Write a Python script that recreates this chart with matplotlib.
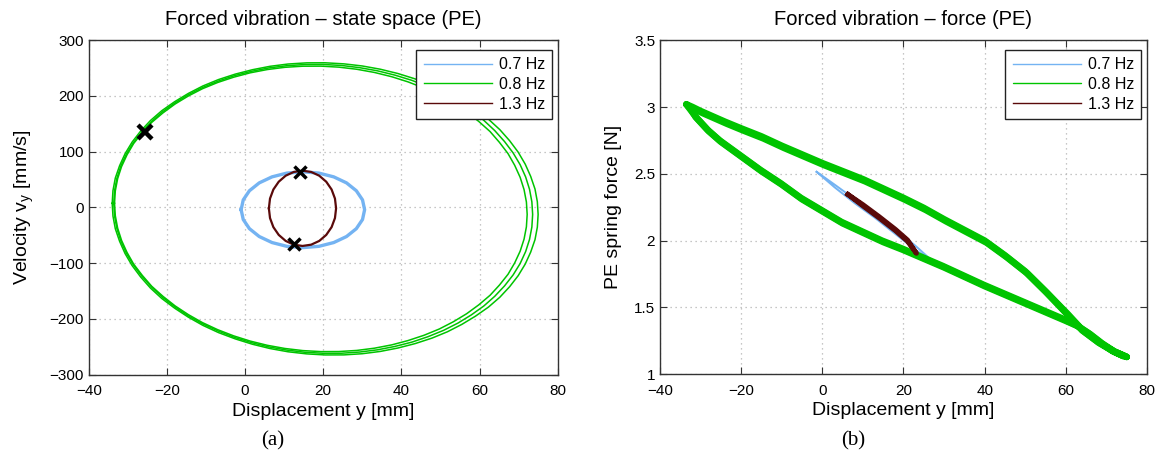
"""Forced vibration of the PE spring: state space and force loops."""

import matplotlib

matplotlib.use("Agg")
import matplotlib.pyplot as plt

plt.rcParams["font.family"] = ["Liberation Sans", "DejaVu Sans"]
plt.rcParams["mathtext.fontset"] = "custom"
plt.rcParams["mathtext.rm"] = "Liberation Sans"

labels = ["0.7 Hz", "0.8 Hz", "1.3 Hz"]
c_blue, c_green, c_red = "#74b3f2", "#00c400", "#5a0a0a"

# ---- (a) state space: displacement [mm] / velocity [mm/s] ----
blue_x = [-1.0, -0.46, 1.12, 3.63, 6.9, 10.71, 14.8, 18.89, 22.7, 25.97,
          28.48, 30.06, 30.6, 30.06, 28.48, 25.97, 22.7, 18.89, 14.8, 10.71,
          6.9, 3.63, 1.12, -0.46, -1.0]
blue_v = [-4, 13.6, 30, 44.1, 54.9, 61.7, 64, 61.7, 54.9, 44.1, 30, 13.6, -4,
          -21.6, -38, -52.1, -62.9, -69.7, -72, -69.7, -62.9, -52.1, -38,
          -21.6, -4]

red_x = [6.1, 6.39, 7.25, 8.62, 10.4, 12.47, 14.7, 16.93, 18.99, 20.78, 22.15,
         23.01, 23.3, 23.01, 22.15, 20.78, 18.99, 16.93, 14.7, 12.47, 10.4,
         8.62, 7.25, 6.39, 6.1]
red_v = [-1.5, 16.0, 32.25, 46.2, 57.0, 63.7, 66, 63.7, 57.0, 46.2, 32.25,
         16.0, -1.5, -19.0, -35.25, -49.2, -60.0, -66.7, -69, -66.7, -60.0,
         -49.2, -35.25, -19.0, -1.5]

# green: three recorded cycles of the 0.8 Hz response (clockwise)
green_x = [
    [-34.0, -33.8, -33.2, -32.1, -30.7, -28.9, -26.7, -24.2, -21.3, -18.0,
     -14.5, -10.8, -6.8, -2.5, 1.9, 6.4, 11.0, 15.8, 20.5,
     25.3, 30.0, 34.6, 39.1, 43.5, 47.8, 51.8, 55.5, 59.0, 62.3, 65.2, 67.7,
     69.9, 71.7, 73.1, 74.2, 74.8, 75.0,
     74.8, 74.2, 73.1, 71.7, 69.9, 67.7, 65.2, 62.3, 59.0, 55.5, 51.8, 47.8,
     43.5, 39.1, 34.6, 30.0, 25.3, 20.5,
     15.8, 11.0, 6.4, 1.9, -2.5, -6.8, -10.8, -14.5, -18.0, -21.3, -24.2,
     -26.7, -28.9, -30.7, -32.1, -33.2, -33.8, -34.0],
    [-33.6, -33.4, -32.8, -31.8, -30.4, -28.6, -26.4, -23.9, -21.1, -17.9,
     -14.5, -10.8, -6.8, -2.7, 1.7, 6.1, 10.7, 15.3, 20.0,
     24.7, 29.3, 33.9, 38.3, 42.7, 46.8, 50.8, 54.5, 57.9, 61.1, 63.9, 66.4,
     68.6, 70.4, 71.8, 72.8, 73.4, 73.6,
     73.4, 72.8, 71.8, 70.4, 68.6, 66.4, 63.9, 61.1, 57.9, 54.5, 50.8, 46.8,
     42.7, 38.3, 33.9, 29.3, 24.7, 20.0,
     15.3, 10.7, 6.1, 1.7, -2.7, -6.8, -10.8, -14.5, -17.9, -21.1, -23.9,
     -26.4, -28.6, -30.4, -31.8, -32.8, -33.4, -33.6],
    [-33.4, -33.2, -32.6, -31.6, -30.2, -28.5, -26.3, -23.9, -21.0, -17.9,
     -14.5, -10.9, -7.0, -2.9, 1.3, 5.7, 10.2, 14.8, 19.4,
     24.0, 28.6, 33.1, 37.5, 41.7, 45.8, 49.7, 53.3, 56.7, 59.8, 62.7, 65.1,
     67.3, 69.0, 70.4, 71.4, 72.0, 72.2,
     72.0, 71.4, 70.4, 69.0, 67.3, 65.1, 62.7, 59.8, 56.7, 53.3, 49.7, 45.8,
     41.7, 37.5, 33.1, 28.6, 24.0, 19.4,
     14.8, 10.2, 5.7, 1.3, -2.9, -7.0, -10.9, -14.5, -17.9, -21.0, -23.9,
     -26.3, -28.5, -30.2, -31.6, -32.6, -33.2, -33.4],
]
green_v = [
    [7.5, 30.3, 52.8, 75.0, 96.5, 117.3, 137.2, 156.0, 173.6, 189.8, 204.6,
     217.9, 229.4, 239.2, 247.1, 253.2, 257.3, 259.4, 259.5,
     257.6, 253.8, 248.0, 240.3, 230.7, 219.4, 206.4, 191.8, 175.7, 158.3,
     139.6, 119.8, 99.2, 77.7, 55.7, 33.1, 10.4, -12.5,
     -35.3, -57.8, -80.0, -101.5, -122.3, -142.2, -161.0, -178.6, -194.8,
     -209.6, -222.9, -234.4, -244.2, -252.1, -258.2, -262.3, -264.4, -264.5,
     -262.6, -258.8, -253.0, -245.3, -235.7, -224.4, -211.4, -196.8, -180.7,
     -163.3, -144.6, -124.8, -104.2, -82.7, -60.7, -38.1, -15.4, 7.5],
    [7.5, 30.0, 52.3, 74.2, 95.5, 116.0, 135.7, 154.3, 171.7, 187.7, 202.3,
     215.4, 226.8, 236.5, 244.3, 250.3, 254.3, 256.4, 256.5,
     254.7, 250.8, 245.1, 237.5, 228.0, 216.8, 203.9, 189.5, 173.6, 156.3,
     137.9, 118.3, 97.9, 76.7, 54.9, 32.6, 10.1, -12.5,
     -35.0, -57.3, -79.2, -100.5, -121.0, -140.7, -159.3, -176.7, -192.7,
     -207.3, -220.4, -231.8, -241.5, -249.3, -255.3, -259.3, -261.4, -261.5,
     -259.7, -255.8, -250.1, -242.5, -233.0, -221.8, -208.9, -194.5, -178.6,
     -161.3, -142.9, -123.3, -102.9, -81.7, -59.9, -37.6, -15.1, 7.5],
    [7.5, 29.8, 51.8, 73.4, 94.5, 114.8, 134.2, 152.5, 169.7, 185.6, 200.0,
     213.0, 224.2, 233.7, 241.5, 247.4, 251.4, 253.4, 253.5,
     251.7, 247.9, 242.2, 234.6, 225.3, 214.2, 201.5, 187.2, 171.5, 154.4,
     136.2, 116.8, 96.6, 75.7, 54.1, 32.1, 9.9, -12.5,
     -34.8, -56.8, -78.4, -99.5, -119.8, -139.2, -157.5, -174.7, -190.6,
     -205.0, -218.0, -229.2, -238.7, -246.5, -252.4, -256.4, -258.4, -258.5,
     -256.7, -252.9, -247.2, -239.6, -230.3, -219.2, -206.5, -192.2, -176.5,
     -159.4, -141.2, -121.8, -101.6, -80.7, -59.1, -37.1, -14.9, 7.5],
]

marks_x = [-25.5, 14.0, 12.5]
marks_v = [135, 63, -65]

# ---- (b) PE spring force [N] against displacement [mm] ----
fgreen_x = [
    [-33.5, -32, -30, -27, -24, -20, -15, -10, -5, 0, 5, 10, 15, 20, 25, 30,
     35, 40, 45, 50, 55, 60, 64, 68, 72, 75, 72, 69, 66, 63, 60, 55, 50, 45,
     40, 35, 30, 25, 20, 15, 10, 5, 0, -5, -10, -15, -20, -25, -28, -31, -33,
     -33.5],
    [-33.0, -31.5, -29.5, -26.5, -23.5, -19.5, -14.5, -9.5, -4.5, 0.5, 5.5,
     10.5, 15.5, 20.5, 25.5, 30.5, 35.5, 40.5, 45.5, 50.5, 55.5, 60.5, 64.3,
     68.2, 71.8, 74.3, 71.5, 68.6, 65.7, 62.7, 59.7, 54.7, 49.7, 44.7, 39.7,
     34.7, 29.7, 24.7, 19.7, 14.7, 9.7, 4.7, -0.3, -5.3, -10.3, -15.3, -20.3,
     -25.3, -28.3, -31.2, -32.6, -33.0],
]
fgreen_f = [
    [3.02, 3.0, 2.97, 2.93, 2.89, 2.84, 2.78, 2.71, 2.645, 2.58, 2.52, 2.46,
     2.39, 2.32, 2.245, 2.16, 2.08, 2.0, 1.89, 1.77, 1.62, 1.46, 1.33, 1.24,
     1.17, 1.13, 1.17, 1.23, 1.30, 1.36, 1.40, 1.465, 1.53, 1.595, 1.66, 1.73,
     1.80, 1.865, 1.93, 1.99, 2.06, 2.13, 2.22, 2.31, 2.42, 2.52, 2.63, 2.74,
     2.82, 2.92, 3.0, 3.02],
    [3.005, 2.985, 2.955, 2.915, 2.875, 2.825, 2.765, 2.695, 2.63, 2.565,
     2.505, 2.445, 2.375, 2.305, 2.23, 2.145, 2.065, 1.985, 1.875, 1.755,
     1.605, 1.45, 1.325, 1.235, 1.17, 1.135, 1.175, 1.235, 1.305, 1.365,
     1.41, 1.475, 1.54, 1.605, 1.67, 1.74, 1.81, 1.875, 1.94, 2.0, 2.07, 2.14,
     2.23, 2.32, 2.43, 2.53, 2.64, 2.75, 2.83, 2.925, 2.995, 3.005],
]

fblue_x = [-1.4, 3, 8, 13, 18, 23, 27.4, 23, 18, 13, 8, 3, -1.4]
fblue_f = [2.515, 2.42, 2.31, 2.20, 2.09, 1.96, 1.84, 1.93, 2.05, 2.17, 2.28,
           2.40, 2.515]

fred_x = [6.3, 10, 14, 18, 21, 23.2, 21, 18, 14, 10, 6.3]
fred_f = [2.346, 2.27, 2.18, 2.085, 2.005, 1.905, 1.995, 2.075, 2.17, 2.26,
          2.346]


def style_axes(ax):
    ax.grid(True, color="#b4b4b4", linestyle=(0, (1, 3)), linewidth=0.9)
    ax.set_axisbelow(True)
    ax.tick_params(direction="in", top=True, right=True, length=5,
                   labelsize=11, color="#333333")
    ax.tick_params(axis="x", pad=7)
    for sp in ax.spines.values():
        sp.set_color("#333333")
        sp.set_linewidth(1.0)


fig = plt.figure(figsize=(11.63, 4.57), dpi=100)
ax1 = fig.add_axes([0.0763, 0.180, 0.4032, 0.732])
ax2 = fig.add_axes([0.5675, 0.181, 0.4187, 0.731])

# (a)
ax1.plot(blue_x, blue_v, color=c_blue, lw=2.4, label=labels[0],
         solid_joinstyle="round")
for k, (gx, gv) in enumerate(zip(green_x, green_v)):
    ax1.plot(gx, gv, color=c_green, lw=1.1, solid_joinstyle="round",
             label=labels[1] if k == 0 else None)
ax1.plot(red_x, red_v, color=c_red, lw=1.6, label=labels[2],
         solid_joinstyle="round")
ax1.plot(marks_x[:1], marks_v[:1], "x", color="black", ms=10, mew=3.2)
ax1.plot(marks_x[1:], marks_v[1:], "x", color="black", ms=9, mew=2.5)
ax1.set_xlim(-40, 80)
ax1.set_ylim(-300, 300)
ax1.set_xticks(range(-40, 81, 20))
ax1.set_yticks(range(-300, 301, 100))
ax1.set_title("Forced vibration \u2013 state space (PE)", fontsize=14.5, pad=11)
ax1.set_xlabel("Displacement y [mm]", fontsize=14, labelpad=3)
ax1.set_ylabel("Velocity v$_{\\mathregular{y}}$ [mm/s]", fontsize=14,
               labelpad=10)
style_axes(ax1)

# (b)
ax2.plot(fblue_x, fblue_f, color=c_blue, lw=1.4, label=labels[0])
for k, (gx, gf) in enumerate(zip(fgreen_x, fgreen_f)):
    ax2.plot(gx, gf, color=c_green, lw=4.8, solid_joinstyle="round",
             solid_capstyle="round", label=labels[1] if k == 0 else None)
ax2.plot(fred_x, fred_f, color=c_red, lw=3.5, label=labels[2],
         solid_joinstyle="round")
ax2.set_xlim(-40, 80)
ax2.set_ylim(1, 3.5)
ax2.set_xticks(range(-40, 81, 20))
ax2.set_yticks([1, 1.5, 2, 2.5, 3, 3.5])
ax2.set_yticklabels(["1", "1.5", "2", "2.5", "3", "3.5"])
ax2.set_title("Forced vibration \u2013 force (PE)", fontsize=14.5, pad=11)
ax2.set_xlabel("Displacement y [mm]", fontsize=14, labelpad=3)
ax2.set_ylabel("PE spring force [N]", fontsize=14, labelpad=9)
style_axes(ax2)

for ax in (ax1, ax2):
    leg = ax.legend(loc="upper right", fontsize=11.5, handlelength=4.3,
                    fancybox=False, framealpha=1, borderpad=0.45,
                    labelspacing=0.3, handletextpad=0.4, borderaxespad=0,
                    bbox_to_anchor=(0.988, 0.971))
    leg.get_frame().set_edgecolor("#222222")
    leg.get_frame().set_linewidth(1.0)
    for h in leg.get_lines():
        h.set_linewidth(1.0)

fig.text(0.2347, 0.025, "(a)", family="Liberation Serif", fontsize=15,
         ha="center")
fig.text(0.7334, 0.025, "(b)", family="Liberation Serif", fontsize=15,
         ha="center")

fig.savefig("out.png", dpi=100)
plt.close(fig)
